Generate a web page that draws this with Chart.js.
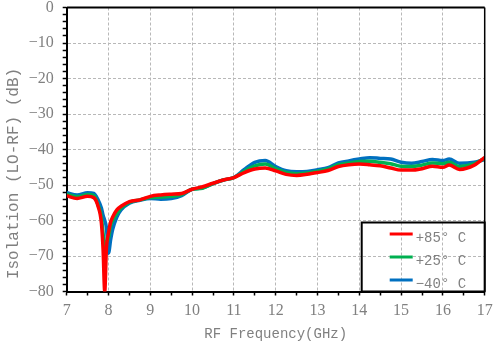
<!DOCTYPE html>
<html>
<head>
<meta charset="utf-8">
<script src="https://cdn.jsdelivr.net/npm/chart.js@4"></script>
<style>
  html, body { margin: 0; padding: 0; background: #fff; }
  #wrap { width: 493px; height: 344px; }
</style>
</head>
<body>
<div id="wrap"><canvas id="chart" width="493" height="344"></canvas></div>
<script>
// RF frequency points (GHz)
const freqs = [7, 7.25, 7.5, 7.65, 7.75, 7.83, 7.87, 7.91, 7.95, 8.0, 8.05, 8.1, 8.2, 8.3, 8.5, 8.75,
  9, 9.25, 9.5, 9.75, 10, 10.25, 10.5, 10.75, 11, 11.25, 11.5, 11.75, 12, 12.25, 12.5, 12.75,
  13, 13.25, 13.5, 13.75, 14, 14.25, 14.5, 14.75, 15, 15.25, 15.5, 15.75, 16, 16.15, 16.4, 16.75, 17];

// isolation (dB) per temperature
const iso85 = [-53.0, -53.8, -53.2, -53.6, -56.0, -60.7, -68, -80, -68, -63.5, -60.5, -59, -57, -56, -54.7, -54.2,
  -53.2, -52.8, -52.6, -52.4, -51.2, -50.5, -49.5, -48.6, -47.9, -46.5, -45.5, -45.2, -46.0, -47.0, -47.3, -47.0,
  -46.5, -45.9, -44.8, -44.3, -44.1, -44.3, -44.6, -45.2, -45.8, -45.8, -45.4, -44.7, -45.0, -44.4, -45.6, -44.4, -42.2];
const iso25 = [-52.6, -53.3, -52.7, -53.0, -55.6, -59, -63.6, -67.3, -66, -65, -61.5, -60, -58, -56.5, -54.9, -54.2,
  -53.5, -53.4, -53.2, -52.7, -51.2, -50.9, -49.6, -48.6, -47.9, -46.1, -44.6, -44.1, -45.4, -46.5, -46.8, -46.6,
  -46.1, -45.5, -44.3, -43.8, -43.4, -43.3, -43.6, -44.0, -44.7, -44.8, -44.4, -43.8, -44.0, -43.6, -44.8, -44.0, -42.5];
const isoM40 = [-52.2, -52.8, -52.2, -52.4, -54.2, -56.5, -58.5, -60, -62, -69.2, -65.5, -62.5, -59, -57, -55.1, -54.3,
  -53.8, -54.0, -53.8, -53.0, -51.2, -50.8, -49.6, -48.6, -47.9, -45.6, -43.6, -43.1, -44.8, -46.0, -46.3, -46.2,
  -45.7, -45.1, -43.8, -43.2, -42.7, -42.3, -42.5, -42.7, -43.6, -43.9, -43.4, -42.8, -43.1, -42.7, -43.9, -43.6, -42.8];

const seriesLabels = ['+85° C', '+25° C', '\u221240° C'];
const seriesColors = ['#ff0000', '#00b050', '#0070c0'];

const textGray = '#808080';
const gridGray = '#b8b8b8';

const toPoints = vals => vals.map((v, i) => ({ x: freqs[i], y: v }));

// boxed legend sitting in the lower right corner of the plot
const boxLegend = {
  id: 'boxLegend',
  afterDraw(chart) {
    const { ctx, chartArea } = chart;
    ctx.save();
    // top and right frame of the plot
    ctx.strokeStyle = '#000';
    ctx.lineWidth = 2;
    ctx.beginPath();
    ctx.moveTo(chartArea.left, chartArea.top);
    ctx.lineTo(chartArea.right, chartArea.top);
    ctx.stroke();
    ctx.lineWidth = 1.5;
    ctx.beginPath();
    ctx.moveTo(chartArea.right, chartArea.top);
    ctx.lineTo(chartArea.right, chartArea.bottom);
    ctx.stroke();

    const w = 123, h = 69;
    const bx = chartArea.right - w, by = chartArea.bottom - h;
    ctx.lineWidth = 2;
    ctx.strokeRect(bx, by, w, h);

    ctx.font = '14px "Liberation Mono"';
    ctx.textBaseline = 'middle';
    ctx.textAlign = 'left';
    chart.data.datasets.forEach((ds, i) => {
      const y = by + 11.5 + i * 23;
      ctx.strokeStyle = ds.borderColor;
      ctx.lineWidth = 3;
      ctx.beginPath();
      ctx.moveTo(bx + 28, y);
      ctx.lineTo(bx + 51, y);
      ctx.stroke();
      ctx.fillStyle = textGray;
      ctx.fillText(ds.label, bx + 54, y + 4);
    });
    ctx.restore();
  }
};

new Chart(document.getElementById('chart'), {
  type: 'line',
  data: {
    datasets: [
      { label: seriesLabels[0], data: toPoints(iso85), borderColor: seriesColors[0], order: 0 },
      { label: seriesLabels[1], data: toPoints(iso25), borderColor: seriesColors[1], order: 1 },
      { label: seriesLabels[2], data: toPoints(isoM40), borderColor: seriesColors[2], order: 2 }
    ]
  },
  options: {
    responsive: false,
    animation: false,
    devicePixelRatio: 1,
    layout: { padding: { top: 7.5, right: 8.3, left: 0, bottom: 0 } },
    elements: {
      point: { radius: 0 },
      line: { borderWidth: 3.5, cubicInterpolationMode: 'monotone', fill: false }
    },
    plugins: {
      legend: { display: false },
      tooltip: { enabled: false }
    },
    scales: {
      x: {
        type: 'linear',
        min: 7,
        max: 17,
        afterFit: s => {
          s.height = 52.5;
          s.paddingLeft = 0;
          s.paddingRight = 0;
        },
        ticks: {
          stepSize: 0.5,
          autoSkip: false,
          maxRotation: 0,
          padding: 6,
          color: textGray,
          font: { family: '"Liberation Serif"', size: 16 },
          callback: v => Number.isInteger(v) ? String(v) : ''
        },
        grid: {
          color: c => Number.isInteger(c.tick && c.tick.value) ? gridGray : 'rgba(0,0,0,0)',
          lineWidth: 1,
          tickColor: '#000',
          tickLength: 4,
          tickWidth: 1.5
        },
        border: { color: '#000', width: 2, dash: [3, 2] },
        title: {
          display: true,
          text: 'RF Frequency(GHz)',
          color: textGray,
          font: { family: '"Liberation Mono"', size: 14 },
          padding: { top: 0, bottom: 1.6 }
        }
      },
      y: {
        min: -80,
        max: 0,
        afterFit: s => {
          s.width = 66.7;
          s.paddingTop = 0;
          s.paddingBottom = 0;
        },
        ticks: {
          stepSize: 2,
          autoSkip: false,
          padding: 9,
          color: textGray,
          font: { family: '"Liberation Serif"', size: 16 },
          callback: v => (v % 10 === 0) ? (v < 0 ? '\u2212' + Math.abs(v) : String(v)) : ''
        },
        grid: {
          color: c => (c.tick && c.tick.value % 10 === 0) ? gridGray : 'rgba(0,0,0,0)',
          lineWidth: 1,
          tickColor: '#000',
          tickLength: 4,
          tickWidth: 1.5
        },
        border: { color: '#000', width: 2, dash: [3, 2] },
        title: {
          display: true,
          // trailing spaces push the label toward the bottom of the axis
          text: 'Isolation (LO-RF) (dB)     ',
          color: textGray,
          font: { family: '"Liberation Mono"', size: 16 },
          padding: { top: 4.4, bottom: 0 }
        }
      }
    }
  },
  plugins: [boxLegend]
});
</script>
</body>
</html>
